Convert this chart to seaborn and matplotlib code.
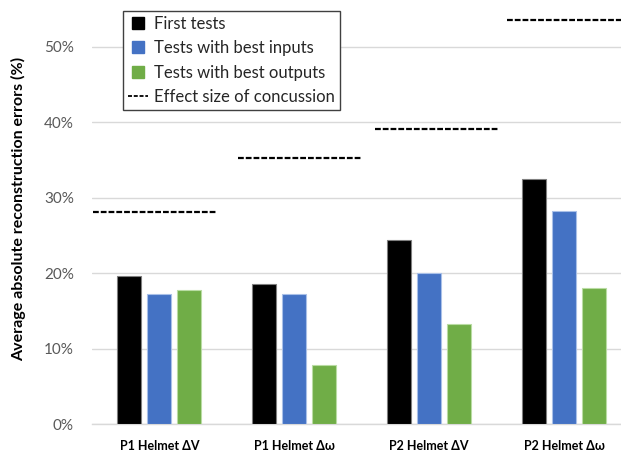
import matplotlib
matplotlib.use("Agg")
import matplotlib.pyplot as plt
import seaborn as sns
import pandas as pd
from matplotlib.lines import Line2D
from matplotlib.ticker import FuncFormatter

categories = ["P1 Helmet ΔV", "P1 Helmet Δω", "P2 Helmet ΔV", "P2 Helmet Δω"]
series_names = ["First tests", "Tests with best inputs", "Tests with best outputs"]
first_tests = [19.7, 18.6, 24.4, 32.5]
best_inputs = [17.2, 17.2, 20.0, 28.2]
best_outputs = [17.8, 7.9, 13.3, 18.1]
effect_size = [28.1, 35.3, 39.1, 53.6]
effect_label = "Effect size of concussion"
ylabel = "Average absolute reconstruction errors (%)"

# layout: horizontal span of each effect-size line relative to category centre
effect_spans = [(-0.494, 0.425), (-0.417, 0.502), (-0.401, 0.510), (-0.425, 0.60)]

colors = ["#000000", "#4472C4", "#70AD47"]
edges = ["#7f7f7f", "#a9c0e8", "#b9dca3"]

df = pd.DataFrame({
    "category": categories * 3,
    "series": sum([[s] * 4 for s in series_names], []),
    "value": first_tests + best_inputs + best_outputs,
})

sns.set_theme(style="white")
plt.rcParams["font.family"] = ["Lato", "DejaVu Sans"]

W, H = 621, 451
fig = plt.figure(figsize=(W / 100, H / 100), dpi=100)
x0, x1 = 91.9, 631.5
ybase = 424.3
ax = fig.add_axes([x0 / W, (H - ybase) / H, (x1 - x0) / W, ybase / H])

sns.barplot(data=df, x="category", y="value", hue="series", palette=colors,
            saturation=1, width=0.667, gap=0.2, ax=ax, legend=False, zorder=3,
            linewidth=0.8)
for i, cont in enumerate(ax.containers):
    for bar in cont:
        bar.set_edgecolor(edges[i])

for i, (v, (a, b)) in enumerate(zip(effect_size, effect_spans)):
    ax.hlines(v, i + a, i + b, colors="#000000", linestyles=(0, (2.6, 0.9)),
              linewidth=1.6, zorder=4)

ax.set_xlim(-0.5, 3.5)
ax.set_ylim(0, ybase / 7.55)
ax.set_yticks([0, 10, 20, 30, 40, 50])
ax.yaxis.set_major_formatter(FuncFormatter(lambda v, p: f"{v:.0f}%"))
ax.grid(axis="y", color="#d9d9d9", linewidth=1.0, zorder=0)
ax.grid(axis="x", visible=False)
for s in ["top", "right", "left"]:
    ax.spines[s].set_visible(False)
ax.spines["bottom"].set_color("#d9d9d9")
ax.spines["bottom"].set_linewidth(1.0)
ax.tick_params(axis="y", length=0, pad=13, labelsize=11, labelcolor="#595959")
ax.tick_params(axis="x", length=0, pad=11, labelsize=9, labelcolor="#000000")
for t in ax.get_xticklabels():
    t.set_fontweight("bold")
ax.set_xlabel("")
ax.set_ylabel(ylabel, fontsize=11.5, fontweight="bold", color="#000000", va="center")
ax.yaxis.set_label_coords(-0.136, 0.507)

handles = [Line2D([], [], marker="s", linestyle="none", markersize=8,
                  markerfacecolor=c, markeredgecolor=c) for c in colors]
handles.append(Line2D([], [], color="#000000", linestyle=(0, (2.2, 1.0)), linewidth=1.3))
leg = fig.legend(handles, series_names + [effect_label], loc="upper left",
                 bbox_to_anchor=(122.7 / W, 1 - 11 / H), bbox_transform=fig.transFigure,
                 frameon=True, fancybox=False, framealpha=1, edgecolor="#404040",
                 fontsize=12, handlelength=1.2, handletextpad=0.4, labelspacing=0.5,
                 borderpad=0.3, borderaxespad=0)
leg.get_frame().set_linewidth(1.0)

fig.savefig("out.png", dpi=100)
